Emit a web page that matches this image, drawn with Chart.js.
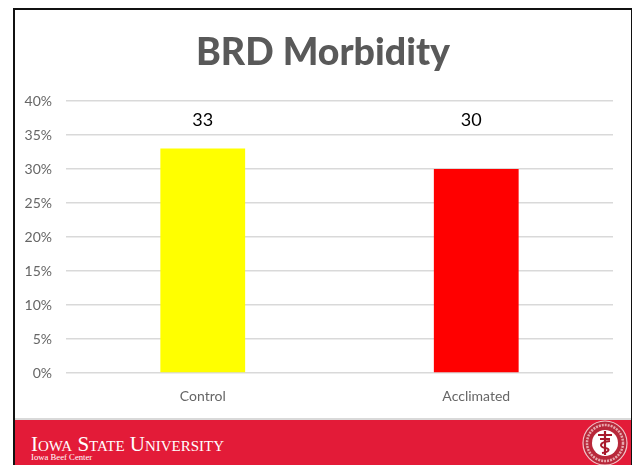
<!DOCTYPE html>
<html>

<head>
    <title>BRD Morbidity</title>
    <script src="https://cdn.jsdelivr.net/npm/chart.js"></script>
    <style>
        html, body { margin: 0; padding: 0; background: #fff; }
        #slide { position: relative; width: 632px; height: 465px; overflow: hidden; }
        #chart { position: absolute; left: 0; top: 0; }
        #frame { position: absolute; left: 13px; top: 8px; width: 616px; height: 470px; border: 2px solid #111; }
        #heading { position: absolute; left: 13px; width: 620px; top: 26px; margin: 0; text-align: center;
            font: 900 37.5px Lato, sans-serif; color: #595959; line-height: 50px; }
        #rule { position: absolute; left: 15px; top: 418px; width: 616px; height: 2px; background: #d9d9d9; }
        #footer { position: absolute; left: 15px; top: 420px; width: 616px; height: 45px; background: #e31b38; color: #fff;
            font-family: "Liberation Serif", serif; }
        #school { position: absolute; left: 16px; top: 14px; font-size: 21px; line-height: 20px; font-variant: small-caps; white-space: nowrap; }
        #unit { position: absolute; left: 16px; top: 33px; font-size: 8.7px; line-height: 9px; white-space: nowrap; }
        #seal { position: absolute; left: 566px; top: 0; }
    </style>
</head>

<body>
    <div id="slide">
        <canvas id="chart" width="632" height="465"></canvas>
        <h1 id="heading">BRD Morbidity</h1>
        <div id="rule"></div>
        <div id="footer">
            <div id="school">Iowa State University</div>
            <div id="unit">Iowa Beef Center</div>
            <svg id="seal" width="50" height="45" viewBox="0 0 50 45">
                <circle cx="24" cy="23" r="22" fill="#b8283a" stroke="#f0c4c8" stroke-width="1.2" />
                <circle cx="24" cy="23" r="18" fill="none" stroke="#e8a8ae" stroke-width="2.5" stroke-dasharray="2 1" />
                <circle cx="24" cy="23" r="13" fill="#fff" />
                <path d="M24 11 V35 M17 15 H31 M19 19 H29" stroke="#a8192c" stroke-width="2.2" fill="none" />
                <path d="M29 21 C18 22 18 27 24 28 C30 29 28 32 21 33" stroke="#a8192c" stroke-width="2" fill="none" />
            </svg>
        </div>
        <div id="frame"></div>
    </div>

    <script>
        // Values
        const categories = ['Control', 'Acclimated'];
        const morbidity = [33, 30];
        const barColors = ['#ffff00', '#ff0000'];
        const valueLabels = ['33', '30'];

        // The numbers float at one height above the bars, not on top of each one
        const labelLevel = 37.2;
        const labelShift = [0, -5];

        const floatingLabels = {
            id: 'floatingLabels',
            afterDatasetsDraw(chart) {
                const ctx = chart.ctx;
                const meta = chart.getDatasetMeta(0);
                const y = chart.scales.y.getPixelForValue(labelLevel);
                ctx.save();
                ctx.font = '18px Lato, sans-serif';
                ctx.fillStyle = '#000';
                ctx.textAlign = 'center';
                ctx.textBaseline = 'middle';
                valueLabels.forEach((text, i) => {
                    ctx.fillText(text, meta.data[i].x + labelShift[i], y);
                });
                ctx.restore();
            }
        };

        new Chart(document.getElementById('chart').getContext('2d'), {
            type: 'bar',
            data: {
                labels: categories,
                datasets: [{
                    data: morbidity,
                    backgroundColor: barColors,
                    categoryPercentage: 0.31,
                    barPercentage: 1
                }]
            },
            options: {
                responsive: false,
                animation: false,
                layout: { padding: { top: 101, right: 19 } },
                plugins: {
                    legend: { display: false },
                    tooltip: { enabled: false }
                },
                scales: {
                    x: {
                        grid: { display: false },
                        border: { display: false },
                        ticks: { color: '#666', font: { family: 'Lato', size: 14 }, padding: 7 },
                        afterFit(axis) { axis.height = 92; }
                    },
                    y: {
                        min: 0,
                        max: 40,
                        ticks: {
                            stepSize: 5,
                            color: '#666',
                            font: { family: 'Lato', size: 14 },
                            padding: 14,
                            callback: value => value + '%'
                        },
                        grid: { color: '#d9d9d9', lineWidth: 1.5, drawTicks: false },
                        border: { display: false },
                        afterFit(axis) { axis.width = 66; }
                    }
                }
            },
            plugins: [floatingLabels]
        });
    </script>
</body>

</html>
